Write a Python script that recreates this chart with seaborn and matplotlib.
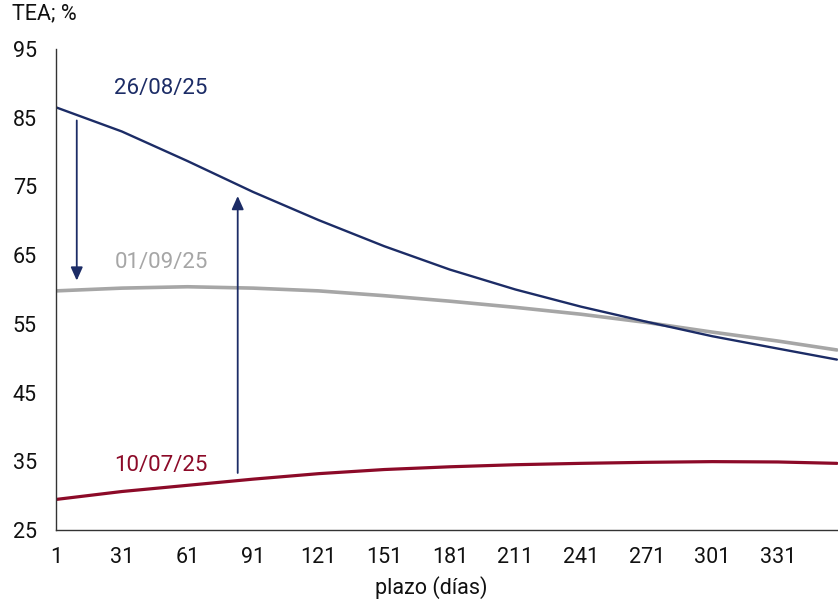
import matplotlib
matplotlib.use("Agg")
import matplotlib.pyplot as plt
import seaborn as sns
import pandas as pd

# ---- data ----
plazo = [1, 31, 61, 91, 121, 151, 181, 211, 241, 271, 301, 331, 358]
curva_260825 = [86.5, 83.0, 78.7, 74.2, 70.1, 66.3, 62.9, 60.0, 57.5, 55.3, 53.2, 51.4, 49.8]
curva_010925 = [59.8, 60.2, 60.4, 60.2, 59.8, 59.1, 58.3, 57.4, 56.4, 55.2, 53.8, 52.5, 51.2]
curva_100725 = [29.45, 30.6, 31.5, 32.4, 33.2, 33.8, 34.2, 34.5, 34.7, 34.85, 34.95, 34.9, 34.7]
series_names = ["26/08/25", "01/09/25", "10/07/25"]
x_ticks = [1, 31, 61, 91, 121, 151, 181, 211, 241, 271, 301, 331]
y_ticks = [25, 35, 45, 55, 65, 75, 85, 95]
# arrows: (day, from_value, to_value)
arrow_down = (10.4, 84.6, 61.3)
arrow_up = (84.0, 33.3, 73.6)
# label positions (day, value)
label_pos = {"26/08/25": (49, 89.2), "01/09/25": (49, 64.0), "10/07/25": (49, 34.4)}

navy = "#1c2c66"
gray = "#a6a6a6"
red = "#8c0a28"
colors = {"26/08/25": navy, "01/09/25": gray, "10/07/25": red}
widths = {"26/08/25": 1.7, "01/09/25": 2.6, "10/07/25": 2.3}

df = pd.DataFrame({
    "plazo": plazo * 3,
    "tea": curva_260825 + curva_010925 + curva_100725,
    "serie": sum([[n] * len(plazo) for n in series_names], []),
})

sns.set_theme(style="white")
plt.rcParams["font.family"] = ["Roboto", "DejaVu Sans"]

fig = plt.figure(figsize=(8.38, 6.01), dpi=100)
ax = fig.add_axes([56.2 / 838, 1 - 530 / 601, (838 - 56.2) / 838, (530 - 49) / 601])

for name in ["10/07/25", "01/09/25", "26/08/25"]:
    sub = df[df["serie"] == name]
    sns.lineplot(data=sub, x="plazo", y="tea", ax=ax, color=colors[name],
                 linewidth=widths[name], legend=False)

ax.set_xlim(1, 358.5)
ax.set_ylim(25, 95)
ax.set_xticks(x_ticks)
ax.set_yticks(y_ticks)
ax.tick_params(axis="both", direction="in", length=5, width=1, color="#333333",
               labelsize=15.5, labelcolor="#111111", pad=14)
ax.tick_params(axis="x", pad=12)
for s in ["top", "right"]:
    ax.spines[s].set_visible(False)
for s in ["left", "bottom"]:
    ax.spines[s].set_color("#333333")
    ax.spines[s].set_linewidth(1.0)

ax.set_ylabel("")
ax.set_xlabel("plazo (días)", fontsize=15.5, color="#111111")
ax.xaxis.set_label_coords((431 - 56.2) / (838 - 56.2), (530 - 588) / (530 - 49))
ax.xaxis.label.set_va("center")

for name, (xx, yy) in label_pos.items():
    ax.text(xx, yy, name, color=colors[name], fontsize=16, ha="center", va="center")

style = "-|>,head_length=0.8,head_width=0.36"
for (xx, y0, y1) in [arrow_down, arrow_up]:
    ax.annotate("", xy=(xx, y1), xytext=(xx, y0),
                arrowprops=dict(arrowstyle=style, color=navy, lw=1.3,
                                mutation_scale=10, shrinkA=0, shrinkB=0))

fig.text(12 / 838, 1 - 14 / 601, "TEA; %", fontsize=15.5, color="#111111",
         ha="left", va="center")

fig.savefig("out.png", dpi=100)
